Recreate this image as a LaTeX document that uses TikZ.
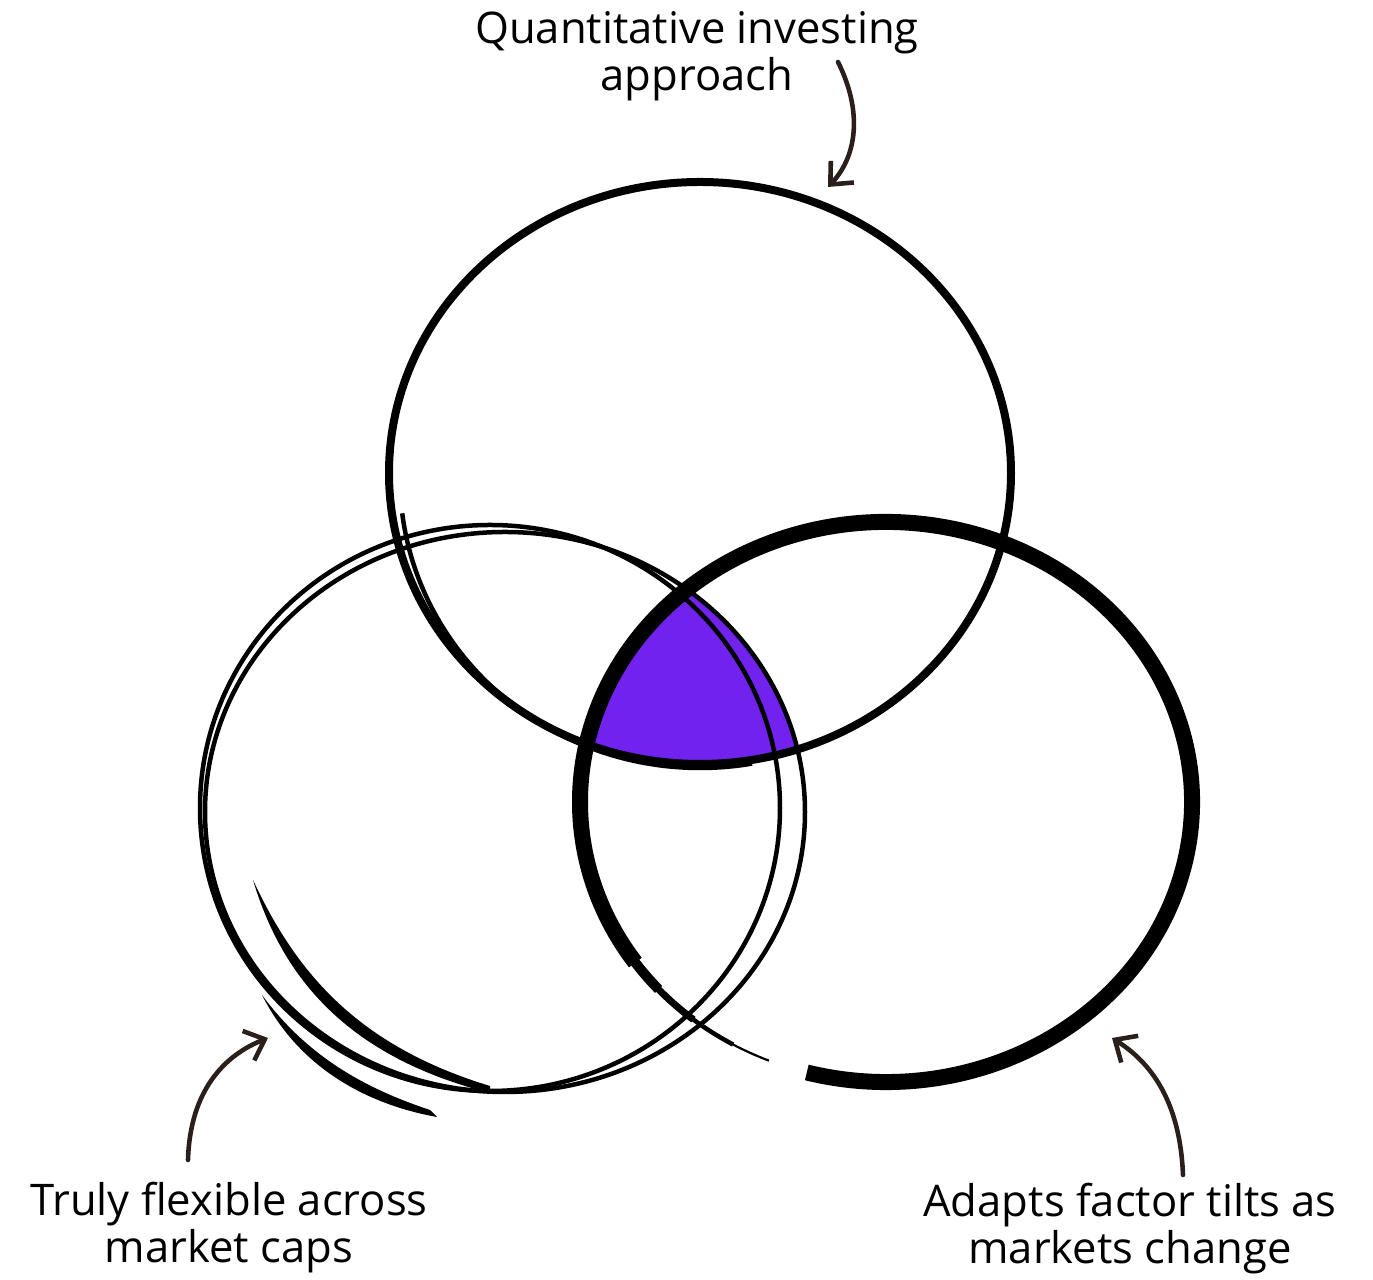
\documentclass[tikz,border=0pt]{standalone}
\usepackage{fontspec}
\setmainfont{Open Sans}
\usetikzlibrary{arrows.meta}
\definecolor{vennpurple}{HTML}{7122EF}
\definecolor{inkbrown}{HTML}{2B1F1C}

\begin{document}
\begin{tikzpicture}[
  ring/.style={draw=black, line width=0.08cm},
  thinring/.style={draw=black, line width=0.045cm},
  fatring/.style={draw=black, line width=0.16cm},
  arr/.style={-{Straight Barb[length=5pt,width=9pt]}, draw=inkbrown,
    line width=1.3pt, line cap=round},
  note/.style={font=\fontsize{12.4}{13.4}\selectfont, align=center,
    inner sep=0pt}
]
\useasboundingbox (0,0) rectangle (13.73,-12.80);

% Circle centres
\coordinate (quant) at (7.00,-4.73);
\coordinate (flex) at (4.90,-8.08);
\coordinate (flexb) at (5.05,-8.12);
\coordinate (adapt) at (8.86,-8.02);

% Purple: where all three overlap
\begin{scope}
  \clip (quant) ellipse [x radius=3.11, y radius=2.91];
  \clip (flexb) ellipse [x radius=3.00, y radius=2.80];
  \fill[vennpurple] (adapt) ellipse [x radius=3.06, y radius=2.80];
\end{scope}

% Top circle (with a second pass lower left)
\draw[ring] (quant) ellipse [x radius=3.11, y radius=2.91];
\draw[thinring] (7.00,-4.78) ++(187:3.00 and 2.90)
  arc[start angle=187, end angle=280, x radius=3.00, y radius=2.90];

% Left circle: two passes, a brush stroke inside
\draw[thinring] (flex) ellipse [x radius=2.90, y radius=2.83];
\draw[thinring] (flexb) ellipse [x radius=3.00, y radius=2.80];
\fill (2.53,-8.80) .. controls (2.80,-9.70) and (3.40,-10.55) .. (4.90,-10.93)
  -- (4.90,-10.86) .. controls (3.55,-10.45) and (2.95,-9.70) .. (2.53,-8.80);
\fill (2.62,-9.95) .. controls (3.00,-10.70) and (3.70,-11.05) .. (4.37,-11.17)
  -- (4.30,-11.10) .. controls (3.70,-10.90) and (3.10,-10.60) .. (2.62,-9.95);

% Right circle: heavy stroke, thinning out at the end
\draw[fatring] (adapt) ++(255:3.06 and 2.80)
  arc[start angle=255, end angle=575, x radius=3.06, y radius=2.80];
\draw[black, line width=0.10cm] (adapt) ++(212:3.06 and 2.80)
  arc[start angle=212, end angle=222, x radius=3.06, y radius=2.80];
\draw[black, line width=0.07cm] (adapt) ++(221:3.06 and 2.80)
  arc[start angle=221, end angle=231, x radius=3.06, y radius=2.80];
\draw[black, line width=0.045cm] (adapt) ++(230:3.06 and 2.80)
  arc[start angle=230, end angle=240, x radius=3.06, y radius=2.80];
\draw[black, line width=0.022cm] (adapt) ++(239:3.06 and 2.80)
  arc[start angle=239, end angle=247.5, x radius=3.06, y radius=2.80];

% Labels
\node[note] (quanttxt) at (6.97,-0.56) {Quantitative investing\\approach};
\node[note] (flextxt) at (2.29,-12.28) {Truly flexible across\\market caps};
\node[note] (adapttxt) at (11.30,-12.29) {Adapts factor tilts as\\markets change};

% Arrows
\coordinate (quantfrom) at (8.38,-0.62);
\coordinate (quantto) at (8.28,-1.87);
\draw[arr] (quantfrom) .. controls (8.62,-1.10) and (8.58,-1.55) .. (quantto);

\coordinate (flexfrom) at (1.88,-11.60);
\coordinate (flexto) at (2.68,-10.38);
\draw[arr] (flexfrom) .. controls (1.90,-10.90) and (2.25,-10.55) .. (flexto);

\coordinate (adaptfrom) at (11.83,-11.75);
\coordinate (adaptto) at (11.12,-10.38);
\draw[arr] (adaptfrom) .. controls (11.80,-11.00) and (11.50,-10.62) .. (adaptto);

\end{tikzpicture}
\end{document}
